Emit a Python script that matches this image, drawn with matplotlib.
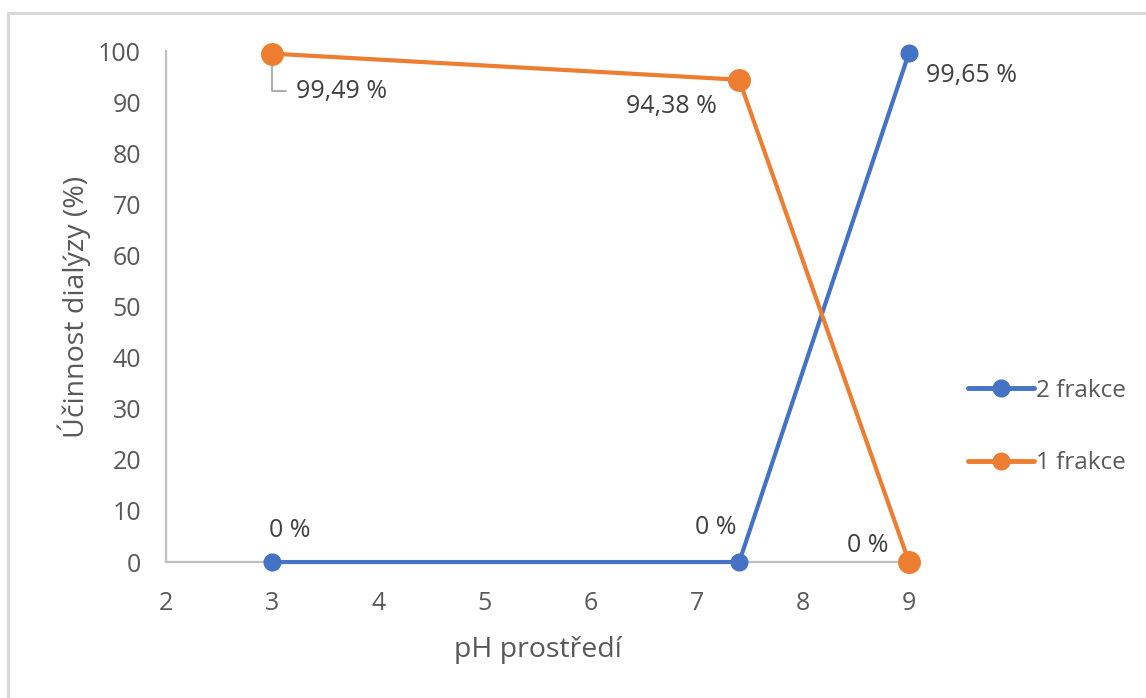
import matplotlib.pyplot as plt
from matplotlib.patches import Rectangle

plt.rcParams['font.family'] = ['Open Sans', 'DejaVu Sans']

ph = [3, 7.4, 9]
frakce2 = [0, 0, 99.65]
frakce1 = [99.49, 94.38, 0]
labels2 = ['0 %', '0 %', '99,65 %']
labels1 = ['99,49 %', '94,38 %', '0 %']

blue = '#4472C4'
orange = '#ED7D31'
axis_gray = '#BFBFBF'
text_gray = '#595959'
label_gray = '#404040'

fig = plt.figure(figsize=(11.46, 6.98), dpi=100)
ax = fig.add_axes([0.1449, 0.1948, 0.6483, 0.7321])

ax.plot(ph, frakce2, color=blue, lw=3, marker='o', ms=12, label='2 frakce',
        solid_capstyle='round', zorder=3, clip_on=False)
ax.plot(ph, frakce1, color=orange, lw=3, marker='o', ms=15.5, label='1 frakce',
        solid_capstyle='round', zorder=4, clip_on=False)

ax.set_xlim(2, 9)
ax.set_ylim(0, 100)
ax.set_xticks(range(2, 10))
ax.set_yticks(range(0, 101, 10))

for side in ['top', 'right']:
    ax.spines[side].set_visible(False)
for side in ['left', 'bottom']:
    ax.spines[side].set_color(axis_gray)
    ax.spines[side].set_linewidth(1.6)
ax.tick_params(length=0, labelsize=18, labelcolor=text_gray)
ax.tick_params(axis='x', pad=21)
ax.tick_params(axis='y', pad=18)

ax.set_xlabel('pH prostředí', fontsize=20.5, color=text_gray, labelpad=14)
ax.set_ylabel('Účinnost dialýzy (%)', fontsize=20.5, color=text_gray, labelpad=5)

# data labels
lab_kw = dict(textcoords='offset points', fontsize=18, color=label_gray, va='center')
ax.annotate(labels1[0], (ph[0], frakce1[0]), xytext=(17, -27), ha='left',
            arrowprops=dict(arrowstyle='-', color='#A6A6A6', lw=1.3,
                            connectionstyle='angle,angleA=0,angleB=90,rad=0',
                            shrinkA=5, shrinkB=0),
            **lab_kw)
ax.annotate(labels1[1], (ph[1], frakce1[1]), xytext=(-16, -19), ha='right', **lab_kw)
ax.annotate(labels1[2], (ph[2], frakce1[2]), xytext=(-15, 12), ha='right', **lab_kw)
ax.annotate(labels2[0], (ph[0], frakce2[0]), xytext=(13, 23), ha='center', **lab_kw)
ax.annotate(labels2[1], (ph[1], frakce2[1]), xytext=(-2, 25), ha='right', **lab_kw)
ax.annotate(labels2[2], (ph[2], frakce2[2]), xytext=(12, -16), ha='left', **lab_kw)

leg = ax.legend(loc='center left', bbox_to_anchor=(1.05, 0.264), frameon=False,
                fontsize=17.5, labelcolor=text_gray, handlelength=2.7,
                handletextpad=0.1, labelspacing=2.0)
for h in leg.legend_handles:
    h.set_linewidth(3.5)
    h.set_markersize(12)

# chart border
fig.patches.append(Rectangle((8 / 1146, -0.05), 1.1, 1 - 13 / 698 + 0.05,
                             transform=fig.transFigure, fill=False,
                             edgecolor='#D9D9D9', lw=2.2))

fig.savefig('out.png', dpi=100)
